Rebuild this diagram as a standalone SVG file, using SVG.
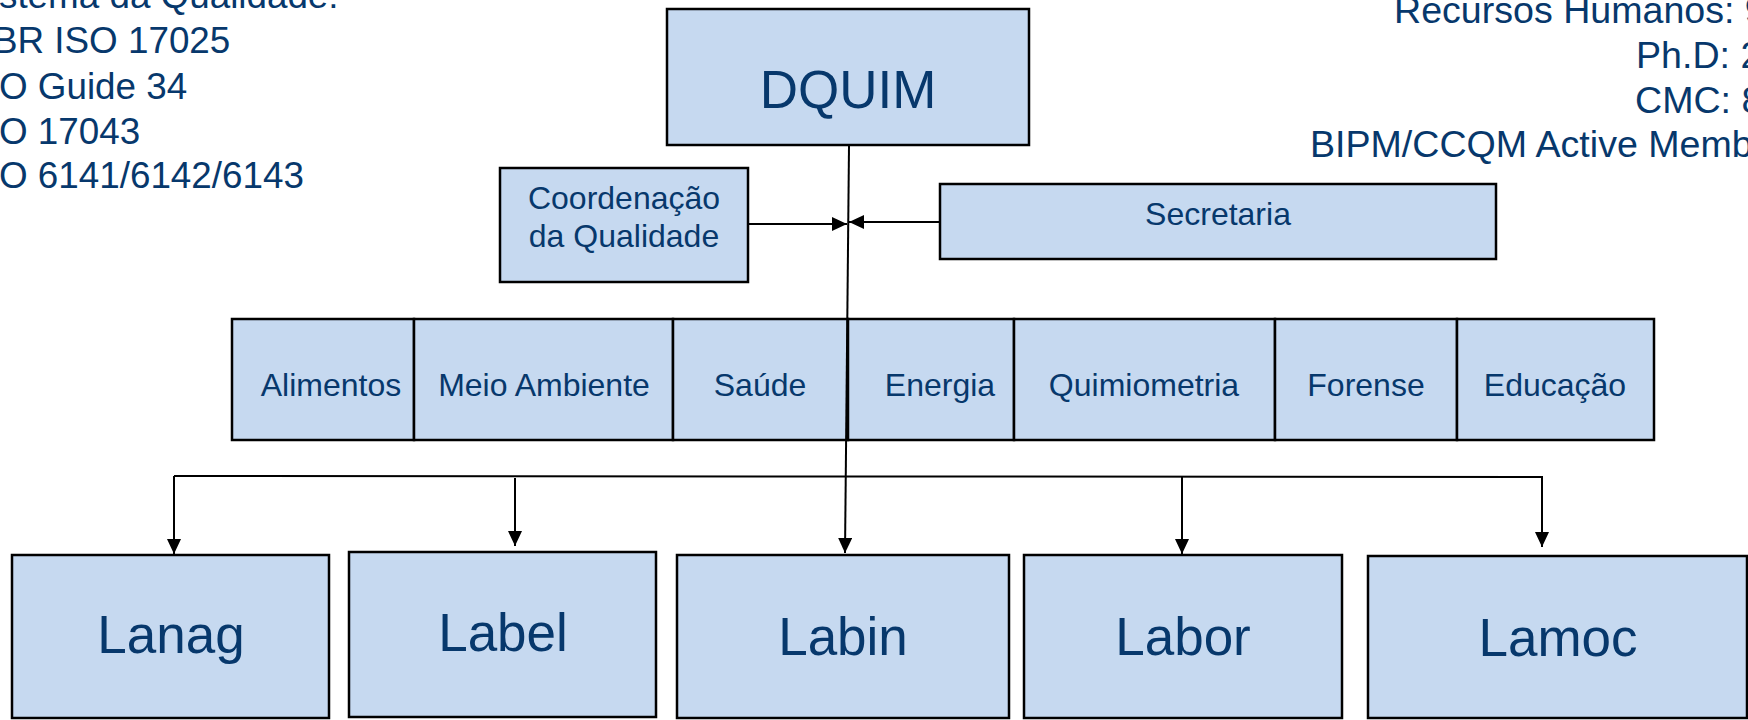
<svg xmlns="http://www.w3.org/2000/svg" width="1748" height="720" viewBox="0 0 1748 720">
<style>
.box{fill:#c6d9f0;stroke:#000;stroke-width:2.5}
.t{font-family:"Liberation Sans",Arial,sans-serif;fill:#07386c}
.s32{font-size:32px;text-anchor:middle}
.s53{font-size:53px;text-anchor:middle}
.cl{font-size:36.8px}
.cr{font-size:37.6px}
.ln{fill:none;stroke:#000;stroke-width:2}
</style>
<defs>
<marker id="ah" markerUnits="userSpaceOnUse" markerWidth="16" markerHeight="14" refX="15" refY="7" orient="auto">
<path d="M0,0 L15,7 L0,14 z" fill="#000"/>
</marker>
</defs>
<rect width="1748" height="720" fill="#fff"/>
<g id="corner-left" class="t cl">
<text x="-1" y="8">stema da Qualidade:</text>
<text x="-7" y="53">BR ISO 17025</text>
<text x="-1" y="99">O Guide 34</text>
<text x="-1" y="144">O 17043</text>
<text x="-1" y="188">O 6141/6142/6143</text>
</g>
<g id="corner-right" class="t cr">
<text x="1394" y="23">Recursos Humanos: 9</text>
<text x="1636" y="68">Ph.D: 2</text>
<text x="1635" y="113">CMC: 8</text>
<text x="1310" y="157">BIPM/CCQM Active Memb</text>
</g>
<g id="dquim"><rect class="box" x="667" y="9" width="362" height="136"/><text class="t s53" x="848" y="108">DQUIM</text></g>
<g id="coordenacao"><rect class="box" x="500" y="168" width="248" height="114"/><text class="t s32" x="624" y="209">Coordenação</text><text class="t s32" x="624" y="247">da Qualidade</text></g>
<g id="secretaria"><rect class="box" x="940" y="184" width="556" height="75"/><text class="t s32" x="1218" y="225">Secretaria</text></g>
<g id="alimentos"><rect class="box" x="232" y="319" width="182" height="121"/><text class="t s32" x="331" y="396">Alimentos</text></g>
<g id="meio-ambiente"><rect class="box" x="414" y="319" width="259" height="121"/><text class="t s32" x="544" y="396">Meio Ambiente</text></g>
<g id="saude"><rect class="box" x="673" y="319" width="175" height="121"/><text class="t s32" x="760" y="396">Saúde</text></g>
<g id="energia"><rect class="box" x="848" y="319" width="166" height="121"/><text class="t s32" x="940" y="396">Energia</text></g>
<g id="quimiometria"><rect class="box" x="1014" y="319" width="261" height="121"/><text class="t s32" x="1144" y="396">Quimiometria</text></g>
<g id="forense"><rect class="box" x="1275" y="319" width="182" height="121"/><text class="t s32" x="1366" y="396">Forense</text></g>
<g id="educacao"><rect class="box" x="1457" y="319" width="197" height="121"/><text class="t s32" x="1555" y="396">Educação</text></g>
<g id="lanag"><rect class="box" x="12" y="555" width="317" height="163"/><text class="t s53" x="171" y="653">Lanag</text></g>
<g id="label"><rect class="box" x="349" y="552" width="307" height="165"/><text class="t s53" x="503" y="651">Label</text></g>
<g id="labin"><rect class="box" x="677" y="555" width="332" height="163"/><text class="t s53" x="843" y="655">Labin</text></g>
<g id="labor"><rect class="box" x="1024" y="555" width="318" height="163"/><text class="t s53" x="1183" y="655">Labor</text></g>
<g id="lamoc"><rect class="box" x="1368" y="556" width="379" height="162"/><text class="t s53" x="1558" y="656">Lamoc</text></g>
<g id="connectors">
<line class="ln" x1="849" y1="146" x2="845" y2="553" marker-end="url(#ah)"/>
<line class="ln" x1="749" y1="224" x2="847" y2="224" marker-end="url(#ah)"/>
<line class="ln" x1="939" y1="222" x2="849" y2="222" marker-end="url(#ah)"/>
<polyline class="ln" points="174,476 1542,477 1542,547" marker-end="url(#ah)"/>
<line class="ln" x1="174" y1="476" x2="174" y2="554" marker-end="url(#ah)"/>
<line class="ln" x1="515" y1="478" x2="515" y2="546" marker-end="url(#ah)"/>
<line class="ln" x1="1182" y1="477" x2="1182" y2="554" marker-end="url(#ah)"/>
</g>
</svg>
